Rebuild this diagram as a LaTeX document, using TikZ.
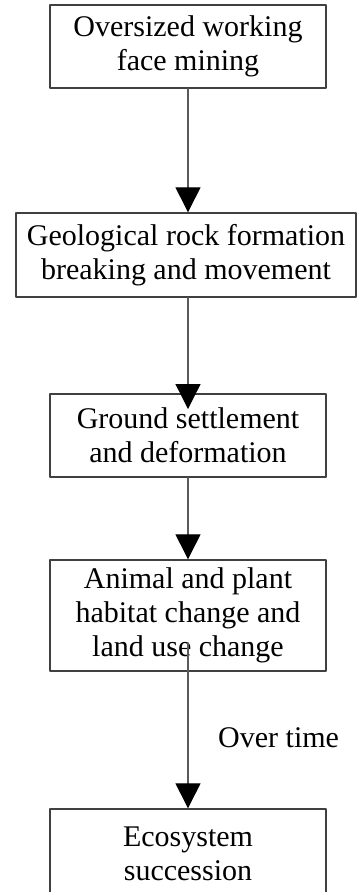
\documentclass[tikz,border=0pt]{standalone}
\usepackage{fontspec}
\setmainfont{Liberation Serif}
\usetikzlibrary{arrows.meta,positioning}
\definecolor{framegray}{RGB}{64,64,64}
\definecolor{linkgray}{RGB}{90,90,90}
\tikzset{
 stagebox/.style={draw=framegray,line width=1.4pt,align=center,inner sep=0pt,
  minimum width=276pt,font=\fontsize{30}{34}\selectfont},
 flowarrow/.style={draw=linkgray,line width=1.3pt,
  -{Triangle[length=25pt,width=25pt,color=black,fill=black]}},
 labeltext/.style={font=\fontsize{30}{34}\selectfont,inner sep=0pt}
}

\begin{document}
\begin{tikzpicture}[x=1pt,y=-1pt,line cap=round,line join=round]
 \useasboundingbox (0,0) rectangle (357,892);
 % Etapy.
 \node[stagebox,minimum height=83pt] (mining) at (188,46.5)
  {Oversized working\\face mining};
 \node[stagebox,minimum width=340pt,minimum height=84pt] (breaking) at (186,255)
  {Geological rock formation\\breaking and movement};
 \node[stagebox,minimum height=83pt] (settlement) at (188,435.5)
  {Ground settlement\\and deformation};
 \node[stagebox,minimum height=111pt] (habitat) at (188,615.5)
  {Animal and plant\\habitat change and\\land use change};
 \node[stagebox,minimum height=90pt] (succession) at (188,854)
  {Ecosystem\\succession};
 % Strzalki.
 \coordinate (tip2) at (188,409);
 \coordinate (start4) at (188,643);
 \draw[flowarrow] (mining.south) -- (mining.south |- breaking.north);
 \draw[flowarrow] (mining.south |- breaking.south) -- (tip2);
 \draw[flowarrow] (settlement.south) -- (habitat.north);
 \draw[flowarrow] (start4) -- (succession.north);
 \node[labeltext,anchor=west] (overtime) at (218,738) {Over time};
\end{tikzpicture}
\end{document}
